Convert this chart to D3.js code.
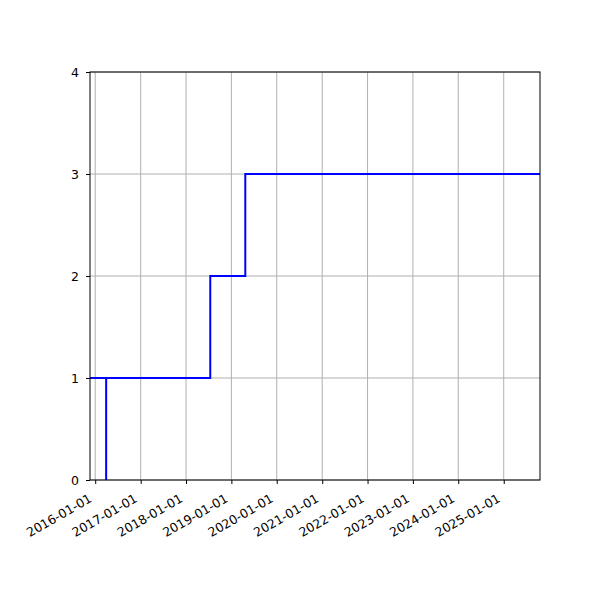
<!doctype html>
<html lang="en">
  <head>
    <meta charset="UTF-8" />
    <title>Step chart</title>
    <script src="https://unpkg.com/d3@7.9.0/dist/d3.min.js"></script>
    <style>
      body {
        margin: 0;
        background: #fff;
      }
      text {
        font-family: 'DejaVu Sans', sans-serif;
        font-size: 12.5px;
        fill: #000;
      }
      .grid line {
        stroke: #b0b0b0;
        stroke-width: 1;
      }
    </style>
  </head>
  <body>
    <svg width="600" height="600"></svg>

    <script>
      // step series (stepped after each date)
      const stepDates = [
        '2015-11-20',
        '2016-03-29',
        '2016-03-29',
        '2018-07-15',
        '2019-04-23',
        '2025-10-20',
      ];
      const stepValues = [1, 0, 1, 2, 3, 3];

      const xDomain = ['2015-11-20', '2025-10-20'];
      const xTickLabels = [
        '2016-01-01', '2017-01-01', '2018-01-01', '2019-01-01', '2020-01-01',
        '2021-01-01', '2022-01-01', '2023-01-01', '2024-01-01', '2025-01-01',
      ];
      const yTicks = [0, 1, 2, 3, 4];

      const svg = d3.select('svg');
      const margin = { top: 72, right: 60, bottom: 120, left: 90 };
      const width = 600, height = 600;
      const innerW = width - margin.left - margin.right;
      const innerH = height - margin.top - margin.bottom;

      const parse = d3.utcParse('%Y-%m-%d');
      const x = d3.scaleUtc().domain(xDomain.map(parse)).range([0, innerW]);
      const y = d3.scaleLinear().domain([0, 4]).range([innerH, 0]);

      const g = svg.append('g')
        .attr('transform', `translate(${margin.left},${margin.top})`);

      // grid
      const grid = g.append('g').attr('class', 'grid');
      grid.selectAll('.gx')
        .data(xTickLabels)
        .enter()
        .append('line')
        .attr('x1', (d) => x(parse(d)))
        .attr('x2', (d) => x(parse(d)))
        .attr('y1', 0)
        .attr('y2', innerH);
      grid.selectAll('.gy')
        .data(yTicks)
        .enter()
        .append('line')
        .attr('x1', 0)
        .attr('x2', innerW)
        .attr('y1', (d) => y(d))
        .attr('y2', (d) => y(d));

      svg.append('clipPath').attr('id', 'clip')
        .append('rect').attr('width', innerW).attr('height', innerH);

      const data = stepDates.map((d, i) => ({ date: parse(d), value: stepValues[i] }));
      const line = d3.line()
        .curve(d3.curveStepAfter)
        .x((d) => x(d.date))
        .y((d) => y(d.value));

      g.append('path')
        .datum(data)
        .attr('clip-path', 'url(#clip)')
        .attr('fill', 'none')
        .attr('stroke', 'blue')
        .attr('stroke-width', 2)
        .attr('d', line);

      // axes
      const xAxis = g.append('g')
        .attr('transform', `translate(0,${innerH})`)
        .call(d3.axisBottom(x)
          .tickValues(xTickLabels.map(parse))
          .tickFormat(d3.utcFormat('%Y-%m-%d'))
          .tickSize(4)
          .tickPadding(4));
      xAxis.select('.domain').remove();
      xAxis.selectAll('line').attr('stroke', '#000').attr('stroke-width', 1);
      xAxis.selectAll('text')
        .attr('y', 0)
        .attr('dy', 0)
        .style('text-anchor', 'end')
        .attr('transform', 'translate(-3,21) rotate(-30)');

      const yAxis = g.append('g')
        .call(d3.axisLeft(y)
          .tickValues(yTicks)
          .tickFormat(d3.format('d'))
          .tickSize(4)
          .tickPadding(7));
      yAxis.select('.domain').remove();
      yAxis.selectAll('line').attr('stroke', '#000').attr('stroke-width', 1);

      // spines
      g.append('rect')
        .attr('width', innerW)
        .attr('height', innerH)
        .attr('fill', 'none')
        .attr('stroke', '#000')
        .attr('stroke-width', 1);
    </script>
  </body>
</html>
